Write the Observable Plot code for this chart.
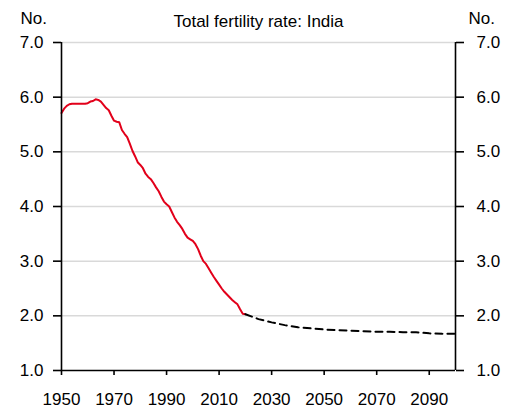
<!DOCTYPE html>
<html>
<head>
<meta charset="utf-8">
<script src="https://cdn.jsdelivr.net/npm/d3@7"></script>
<script src="https://cdn.jsdelivr.net/npm/@observablehq/plot@0.6"></script>
<style>
  html, body { margin: 0; padding: 0; background: #fff; }
</style>
</head>
<body>
<div id="chart"></div>
<script>
const title = "Total fertility rate: India";
const unitLabel = "No.";

// Historical (red) series
const histYears = [1950,1951,1952,1953,1954,1955,1956,1957,1958,1959,
  1960,1961,1962,1963,1964,1965,1966,1967,1968,1969,
  1970,1971,1972,1973,1974,1975,1976,1977,1978,1979,
  1980,1981,1982,1983,1984,1985,1986,1987,1988,1989,
  1990,1991,1992,1993,1994,1995,1996,1997,1998,1999,
  2000,2001,2002,2003,2004,2005,2006,2007,2008,2009,
  2010,2011,2012,2013,2014,2015,2016,2017,2018,2019,2020];
const histTFR = [5.71,5.79,5.84,5.87,5.88,5.88,5.88,5.88,5.88,5.88,
  5.89,5.92,5.93,5.96,5.95,5.92,5.86,5.80,5.76,5.66,
  5.57,5.55,5.54,5.40,5.33,5.27,5.15,5.02,4.92,4.81,
  4.76,4.70,4.60,4.54,4.50,4.43,4.35,4.28,4.18,4.09,
  4.04,4.00,3.90,3.80,3.72,3.66,3.59,3.50,3.43,3.40,
  3.37,3.31,3.22,3.10,3.00,2.95,2.87,2.79,2.71,2.64,
  2.57,2.50,2.44,2.39,2.34,2.29,2.25,2.21,2.12,2.04,2.03];

// Projection (dashed) series
const projYears = [2020,2025,2030,2035,2040,2045,2050,2055,2060,2065,2070,2075,2080,2085,2090,2095,2100];
const projTFR   = [2.03,1.94,1.88,1.83,1.79,1.77,1.75,1.74,1.73,1.72,1.71,1.71,1.70,1.70,1.68,1.67,1.67];

const xTicks = [1950,1970,1990,2010,2030,2050,2070,2090];
const yTicks = [1,2,3,4,5,6,7];

const hist = histYears.map((year, i) => ({year, value: histTFR[i]}));
const proj = projYears.map((year, i) => ({year, value: projTFR[i]}));

const chart = Plot.plot({
  width: 517,
  height: 412,
  marginLeft: 61,
  marginRight: 62,
  marginTop: 42,
  marginBottom: 42,
  style: {fontFamily: "'Liberation Sans', Arial, sans-serif", fontSize: "17px", background: "#fff", color: "#000"},
  x: {domain: [1950, 2100]},
  y: {domain: [1, 7]},
  marks: [
    Plot.gridY(yTicks.filter(d => d > 1), {stroke: "#d9d9d9", strokeOpacity: 1, strokeWidth: 1.5}),
    Plot.line(hist, {x: "year", y: "value", stroke: "#e2001a", strokeWidth: 2}),
    Plot.line(proj, {x: "year", y: "value", stroke: "#000", strokeWidth: 2, strokeDasharray: "7,5"}),
    Plot.ruleX([1950, 2100], {y1: 1, y2: 7, stroke: "#000", strokeWidth: 1.6}),
    Plot.ruleY([1], {x1: 1950, x2: 2100, stroke: "#000", strokeWidth: 1.6}),
    Plot.axisY({anchor: "left", ticks: yTicks, tickFormat: d => d.toFixed(1), tickSize: 8, tickPadding: 10, label: null, strokeWidth: 1.6, stroke: "#000"}),
    Plot.axisY({anchor: "right", ticks: yTicks, tickFormat: d => d.toFixed(1), tickSize: 8, tickPadding: 13, label: null, strokeWidth: 1.6, stroke: "#000"}),
    Plot.axisX({ticks: xTicks, tickFormat: d => String(d), tickSize: 5, tickPadding: 17, label: null, strokeWidth: 1.6, stroke: "#000"}),
    Plot.text([title], {text: d => d, frameAnchor: "top", dy: -16, lineAnchor: "bottom", fontSize: 17, fill: "#000"}),
    Plot.text([unitLabel], {text: d => d, frameAnchor: "top-left", dx: -41, dy: -19, textAnchor: "start", lineAnchor: "bottom", fontSize: 17, fill: "#000"}),
    Plot.text([unitLabel], {text: d => d, frameAnchor: "top-right", dx: 13, dy: -19, textAnchor: "start", lineAnchor: "bottom", fontSize: 17, fill: "#000"})
  ]
});
document.getElementById("chart").appendChild(chart);
</script>
</body>
</html>
